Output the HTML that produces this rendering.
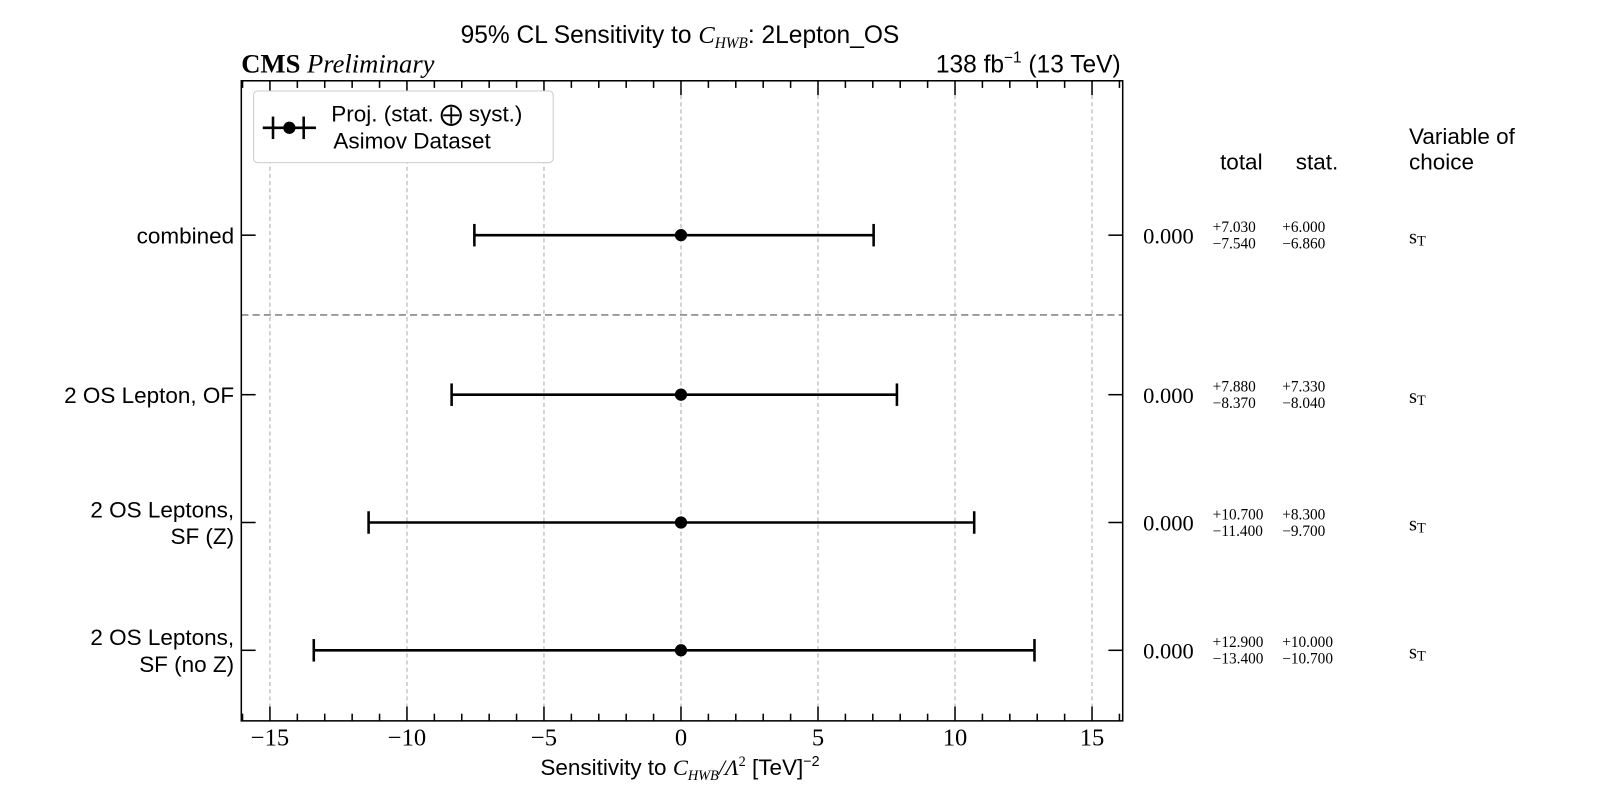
<!DOCTYPE html>
<html><head><meta charset="utf-8"><style>
body{margin:0;background:#fff;width:1600px;height:800px;overflow:hidden}
svg{font-family:"Liberation Sans",sans-serif}
.serif{font-family:"Liberation Serif",serif}
</style></head><body>
<svg width="1600" height="800" viewBox="0 0 1600 800">
<g id="chart" transform="scale(1.0225)">
<text x="665" y="42" font-size="24" text-anchor="middle">95% CL Sensitivity to <tspan class="serif" font-style="italic">C</tspan><tspan class="serif" font-style="italic" font-size="15" dy="5">HWB</tspan><tspan dy="-5">: 2Lepton_OS</tspan></text>
<text x="236" y="71" font-size="26" class="serif"><tspan font-weight="bold">CMS</tspan> <tspan font-style="italic">Preliminary</tspan></text>
<text x="1096" y="71" font-size="24" text-anchor="end">138 fb<tspan font-size="15" dy="-10">−1</tspan><tspan dy="10"> (13 TeV)</tspan></text>
<g id="plot"></g>
<text x="665" y="758" font-size="22" text-anchor="middle">Sensitivity to <tspan class="serif" font-style="italic">C</tspan><tspan class="serif" font-style="italic" font-size="14" dy="5">HWB</tspan><tspan dy="-5" class="serif" font-style="italic">/Λ</tspan><tspan class="serif" font-size="14" dy="-9">2</tspan><tspan dy="9"> [TeV]</tspan><tspan font-size="14" dy="-9">−2</tspan></text>
<g>
<rect x="248" y="89" width="293" height="70" rx="4" fill="#fff" stroke="#ccc"/>
<line x1="257" y1="125" x2="309" y2="125" stroke="#000" stroke-width="2.5"/>
<line x1="267" y1="114" x2="267" y2="136" stroke="#000" stroke-width="2.5"/>
<line x1="297" y1="114" x2="297" y2="136" stroke="#000" stroke-width="2.5"/>
<circle cx="283" cy="125" r="6"/>
<text x="324" y="119" font-size="22">Proj. (stat. ⨁ syst.)</text>
<text x="326" y="145" font-size="22">Asimov Dataset</text>
</g>
<text x="1214" y="166" font-size="22" text-anchor="middle">total</text>
<text x="1288" y="166" font-size="22" text-anchor="middle">stat.</text>
<text x="1378" y="141" font-size="22">Variable of</text>
<text x="1378" y="166" font-size="22">choice</text>
</g>
</svg>
<script>
const categories=[["combined"],["2 OS Lepton, OF"],["2 OS Leptons,","SF (Z)"],["2 OS Leptons,","SF (no Z)"]];
const centers=[0,0,0,0];
const totUp=[7.03,7.88,10.7,12.9];
const totDn=[7.54,8.37,11.4,13.4];
const statUp=[6.0,7.33,8.3,10.0];
const statDn=[6.86,8.04,9.7,10.7];
const xTicks=[-15,-10,-5,0,5,10,15];
const ns="http://www.w3.org/2000/svg";
const L=236,R=1098,T=79,B=705;
const rowY=[230,386,511,636];
function xs(v){return 666+v*26.8;}
const g=document.getElementById('plot');
function mk(t,a,p){const e=document.createElementNS(ns,t);for(const k in a)e.setAttribute(k,a[k]);(p||g).appendChild(e);return e;}
xTicks.forEach(v=>{const l=mk('line',{x1:xs(v),x2:xs(v),y1:T,y2:B,stroke:'#aaa','stroke-width':1,'stroke-dasharray':'4,3'});

});
const sep=mk('line',{x1:L,x2:R,y1:308,y2:308,stroke:'#888','stroke-width':1.5,'stroke-dasharray':'7,4'});


const fr=mk('rect',{x:L,y:T,width:R-L,height:B-T,fill:'none',stroke:'#000','stroke-width':1.5});


for(let v=-16;v<=16;v++){const x=xs(v);if(x<L||x>R)continue;const len=xTicks.includes(v)?14:7;
mk('line',{x1:x,x2:x,y1:B,y2:B-len,stroke:'#000','stroke-width':1.5});
mk('line',{x1:x,x2:x,y1:T,y2:T+len,stroke:'#000','stroke-width':1.5});}
xTicks.forEach(v=>{const t=mk('text',{x:xs(v),y:729,'font-size':24,'text-anchor':'middle','class':'serif'});t.textContent=(v<0?'−':'')+Math.abs(v);

});
const sv=document.getElementById('chart');
categories.forEach((c,i)=>{const y=rowY[i];
mk('line',{x1:L,x2:L+14,y1:y,y2:y,stroke:'#000','stroke-width':1.5});
mk('line',{x1:R,x2:R-14,y1:y,y2:y,stroke:'#000','stroke-width':1.5});
c.forEach((s,j)=>{const t=mk('text',{x:229,y:y+8-(c.length-1-j)*26+(c.length>1?13:0),'font-size':22,'text-anchor':'end'});t.textContent=s;

});
const lo=xs(centers[i]-totDn[i]),hi=xs(centers[i]+totUp[i]);
const eb=mk('g',{});


mk('line',{x1:lo,x2:hi,y1:y,y2:y,stroke:'#000','stroke-width':2.5},eb);
mk('line',{x1:lo,x2:lo,y1:y-11,y2:y+11,stroke:'#000','stroke-width':2.5},eb);
mk('line',{x1:hi,x2:hi,y1:y-11,y2:y+11,stroke:'#000','stroke-width':2.5},eb);
mk('circle',{cx:xs(centers[i]),cy:y,r:6},eb);
const c0=mk('text',{x:1118,y:y+8,'font-size':22,'class':'serif'},sv);c0.textContent=centers[i].toFixed(3);


[[1186,totUp[i],totDn[i]],[1254,statUp[i],statDn[i]]].forEach(([x,u,d])=>{
const a=mk('text',{x:x,y:y-3,'font-size':15,'class':'serif'},sv);a.textContent='+'+u.toFixed(3);


const b=mk('text',{x:x,y:y+13,'font-size':15,'class':'serif'},sv);b.textContent='−'+d.toFixed(3);

});
const s=mk('text',{x:1378,y:y+8,'font-size':20,'class':'serif'},sv);s.innerHTML='s<tspan font-size="14" dy="2">T</tspan>';


});
</script>
</body></html>
